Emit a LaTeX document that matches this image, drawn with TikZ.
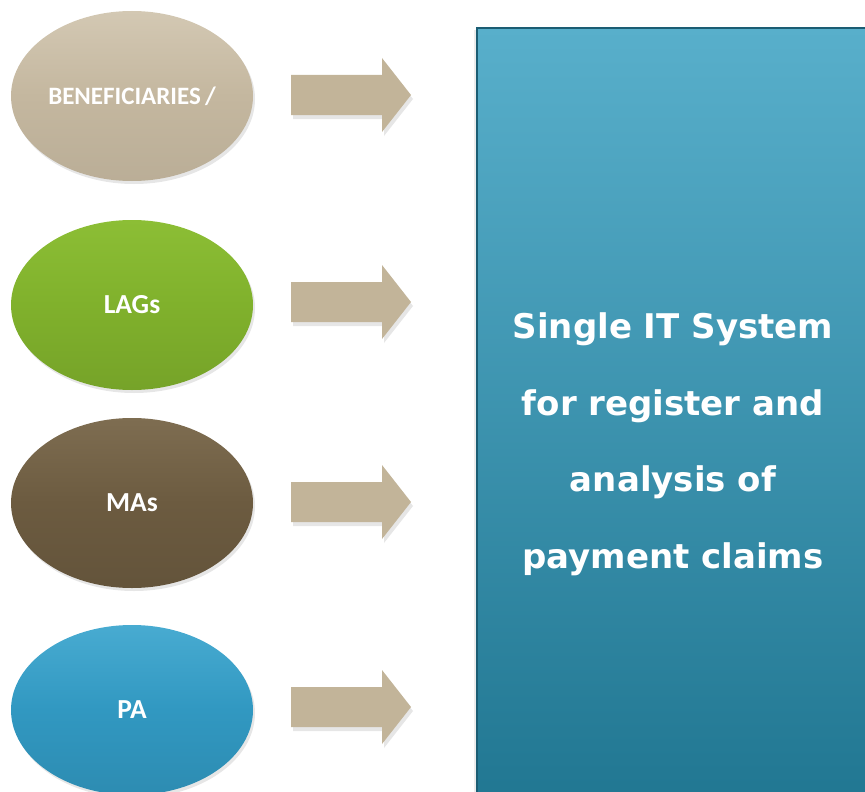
\documentclass[tikz,border=0pt]{standalone}
\usepackage{fontspec}
\setmainfont{DejaVu Sans}
\newfontfamily\calib{Carlito}
\usetikzlibrary{shadows,shapes.geometric}
\definecolor{tanA}{HTML}{C4B79F}
\definecolor{tanL}{HTML}{D3C8B3}
\definecolor{grnA}{HTML}{80B12C}
\definecolor{grnL}{HTML}{8CBE35}
\definecolor{brnA}{HTML}{6C5B40}
\definecolor{brnL}{HTML}{7E6D51}
\definecolor{bluA}{HTML}{3198C1}
\definecolor{bluL}{HTML}{48ABD1}
\definecolor{arrc}{HTML}{C2B499}
\definecolor{boxT}{HTML}{58AFCB}
\definecolor{boxB}{HTML}{1F7590}
\definecolor{boxE}{HTML}{1B5D73}
\tikzset{
  oval/.style={ellipse, minimum width=242pt, minimum height=170pt, inner sep=0pt,
    text=white, font=\calib\bfseries\fontsize{27.5}{32}\selectfont,
    drop shadow={shadow xshift=2pt, shadow yshift=-3pt, opacity=0.2, fill=black!50}},
  bigarrow/.style={fill=arrc,
    drop shadow={shadow xshift=2pt, shadow yshift=-4pt, opacity=0.2, fill=black!50}},
}
\begin{document}
\begin{tikzpicture}[x=1pt,y=-1pt]
\useasboundingbox (0,0) rectangle (865,792);
\clip (0,0) rectangle (865,792);
% big box
\node[draw=boxE, line width=2pt, top color=boxT, bottom color=boxB,
  minimum width=420pt, minimum height=800pt, anchor=north west, inner sep=0pt,
  drop shadow={shadow xshift=-3pt, shadow yshift=-2pt, opacity=0.15, fill=black!50}]
  (sys) at (476,27) {};
\node[text=white, font=\bfseries\fontsize{34}{76.5}\selectfont, align=center, anchor=base]
  (systxt) at (673,568) {Single IT System\\for register and\\analysis of\\payment claims};
% ellipses
\node[oval, top color=tanL, bottom color=tanA!95!black, middle color=tanA,
  font=\calib\bfseries\fontsize{25}{30}\selectfont] (ben) at (132,96) {BENEFICIARIES\,/};
\node[oval, top color=grnL, bottom color=grnA!92!black, middle color=grnA] (lag) at (132,305) {LAGs};
\node[oval, top color=brnL, bottom color=brnA!92!black, middle color=brnA] (ma) at (132,503) {MAs};
\node[oval, top color=bluL, bottom color=bluA!92!black, middle color=bluA] (pa) at (132,710) {PA};
% arrows
\foreach \n/\y in {a1/95, a2/302, a3/502, a4/707}{
  \coordinate (\n) at (291,\y);
  \fill[bigarrow] (\n) ++(0,-20) -- ++(91,0) -- ++(0,-17) -- ++(29,37) -- ++(-29,37) -- ++(0,-17) -- ++(-91,0) -- cycle;
}
\end{tikzpicture}
\end{document}
